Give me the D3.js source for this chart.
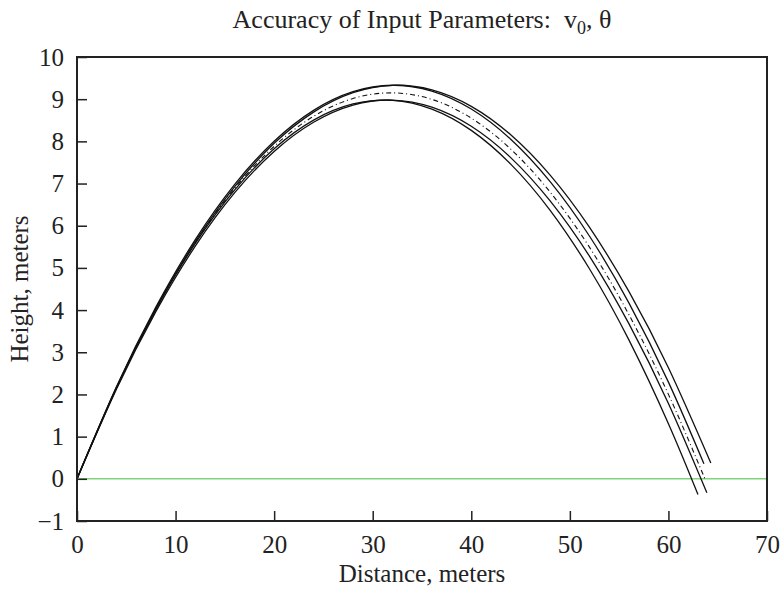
<!DOCTYPE html>
<html>
<head>
<meta charset="utf-8">
<script src="https://cdn.jsdelivr.net/npm/d3@7"></script>
<style>
  html, body { margin: 0; padding: 0; background: #fff; }
  svg text { font-family: "Liberation Serif", "Times New Roman", serif; fill: #222; }
</style>
</head>
<body>
<svg id="chart" width="781" height="589"></svg>
<script>
// Sampled trajectories (distance in m, height in m)
const xNominal = [0, 4, 8, 12, 16, 20, 24, 28, 32, 36, 40, 44, 48, 52, 56, 60, 63.7];
const yNominal = [0, 2.154, 4.019, 5.596, 6.884, 7.883, 8.594, 9.016, 9.150, 8.995, 8.551, 7.818, 6.797, 5.487, 3.889, 2.002, 0.0];

const xLowA = [0, 4, 8, 12, 16, 20, 24, 28, 32, 36, 40, 44, 48, 52, 56, 60, 63.0];
const yLowA = [0, 2.156, 4.017, 5.582, 6.851, 7.825, 8.504, 8.886, 8.973, 8.765, 8.261, 7.461, 6.366, 4.975, 3.289, 1.307, -0.374];

const xLowB = [0, 4, 8, 12, 16, 20, 24, 28, 32, 36, 40, 44, 48, 52, 56, 60, 63.9];
const yLowB = [0, 2.126, 3.965, 5.517, 6.783, 7.762, 8.454, 8.860, 8.979, 8.811, 8.357, 7.615, 6.588, 5.274, 3.673, 1.785, -0.333];

const xHighC = [0, 4, 8, 12, 16, 20, 24, 28, 32, 36, 40, 44, 48, 52, 56, 60, 63.6];
const yHighC = [0, 2.180, 4.070, 5.671, 6.982, 8.003, 8.735, 9.177, 9.330, 9.193, 8.767, 8.051, 7.045, 5.751, 4.165, 2.292, 0.357];

const xHighD = [0, 4, 8, 12, 16, 20, 24, 28, 32, 36, 40, 44, 48, 52, 56, 60, 64.3];
const yHighD = [0, 2.157, 4.030, 5.621, 6.928, 7.953, 8.694, 9.153, 9.328, 9.220, 8.830, 8.156, 7.200, 5.960, 4.438, 2.633, 0.376];

const xTicks = [0, 10, 20, 30, 40, 50, 60, 70];
const yTicks = [-1, 0, 1, 2, 3, 4, 5, 6, 7, 8, 9, 10];
const groundX = [0, 70];
const groundY = [0, 0];

const svg = d3.select("#chart");
const plotLeft = 77, plotRight = 767, plotTop = 57, plotBottom = 521;

const x = d3.scaleLinear().domain([0, 70]).range([plotLeft, plotRight]);
const y = d3.scaleLinear().domain([-1, 10]).range([plotBottom, plotTop]);

const zip = (xs, ys) => xs.map((v, i) => [v, ys[i]]);
const line = d3.line().x(d => x(d[0])).y(d => y(d[1])).curve(d3.curveNatural);

// Ground level
svg.append("path")
  .datum(zip(groundX, groundY))
  .attr("d", d3.line().x(d => x(d[0])).y(d => y(d[1])))
  .attr("fill", "none")
  .attr("stroke", "#80d47a")
  .attr("stroke-width", 1.6);

// Perturbed trajectories (solid)
[[xLowA, yLowA], [xLowB, yLowB], [xHighC, yHighC], [xHighD, yHighD]].forEach(([xs, ys]) => {
  svg.append("path")
    .datum(zip(xs, ys))
    .attr("d", line)
    .attr("fill", "none")
    .attr("stroke", "#111")
    .attr("stroke-width", 1.3);
});

// Nominal trajectory (dash-dot)
svg.append("path")
  .datum(zip(xNominal, yNominal))
  .attr("d", line)
  .attr("fill", "none")
  .attr("stroke", "#111")
  .attr("stroke-width", 1.1)
  .attr("stroke-dasharray", "5,3,1,3");

// Axes with inward ticks
const fmt = d3.format("d");
const xAxis = svg.append("g").attr("transform", `translate(0,${plotBottom})`)
  .call(d3.axisBottom(x).tickValues(xTicks).tickSize(-10).tickPadding(14).tickFormat(fmt));
const yAxis = svg.append("g").attr("transform", `translate(${plotLeft},0)`)
  .call(d3.axisLeft(y).tickValues(yTicks).tickSize(-10).tickPadding(13).tickFormat(fmt));

[xAxis, yAxis].forEach(g => {
  g.select(".domain").remove();
  g.selectAll(".tick line").attr("stroke", "#222").attr("stroke-width", 1.5);
  g.selectAll(".tick text")
    .style("font-family", "'Liberation Serif', 'Times New Roman', serif")
    .style("font-size", "25px")
    .attr("fill", "#222");
});

// Frame
svg.append("rect")
  .attr("x", plotLeft).attr("y", plotTop)
  .attr("width", plotRight - plotLeft).attr("height", plotBottom - plotTop)
  .attr("fill", "none")
  .attr("stroke", "#222")
  .attr("stroke-width", 2);

// Title
const title = svg.append("text")
  .attr("x", (plotLeft + plotRight) / 2)
  .attr("y", 28)
  .attr("text-anchor", "middle")
  .style("white-space", "pre")
  .style("font-size", "26px");
title.append("tspan").text("Accuracy of Input Parameters:  v");
title.append("tspan").attr("dy", 6).style("font-size", "18px").text("0");
title.append("tspan").attr("dy", -6).text(", θ");

// Axis labels
svg.append("text")
  .attr("x", (plotLeft + plotRight) / 2)
  .attr("y", 582)
  .attr("text-anchor", "middle")
  .style("font-size", "25px")
  .text("Distance, meters");

svg.append("text")
  .attr("transform", `translate(28,${(plotTop + plotBottom) / 2}) rotate(-90)`)
  .attr("text-anchor", "middle")
  .style("font-size", "25px")
  .text("Height, meters");
</script>
</body>
</html>
